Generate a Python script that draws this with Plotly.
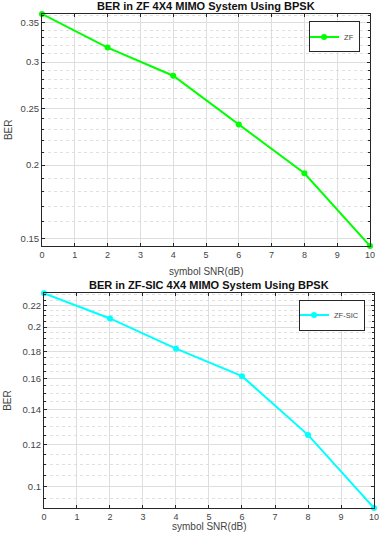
import math
import plotly.graph_objects as go

snr = [0, 2, 4, 6, 8, 10]
ber_zf = [0.3626, 0.3177, 0.2844, 0.2346, 0.1937, 0.1455]
ber_zfsic = [0.2317, 0.2077, 0.1821, 0.1616, 0.1252, 0.0911]

x_ticks = list(range(0, 11))
y1_ticks = [0.15, 0.2, 0.25, 0.3, 0.35]
y1_tick_text = ["0.15", "0.2", "0.25", "0.3", "0.35"]
y2_ticks = [0.1, 0.12, 0.14, 0.16, 0.18, 0.2, 0.22]
y2_tick_text = ["0.1", "0.12", "0.14", "0.16", "0.18", "0.2", "0.22"]
y1_minor = [round(0.14 + 0.01 * i, 3) for i in range(24)]
y2_minor = [round(0.085 + 0.005 * i, 3) for i in range(32)]

title1 = "BER in ZF 4X4 MIMO System Using BPSK"
title2 = "BER in ZF-SIC 4X4 MIMO System Using BPSK"
xlabel = "symbol SNR(dB)"
ylabel = "BER"

FONT = "Liberation Sans, Arial, sans-serif"
AX = "#262626"
GRID = "#dedede"
MINOR = "#e0e0e0"

fig = go.Figure()
fig.add_trace(go.Scatter(x=snr, y=ber_zf, mode="lines+markers", name="ZF",
                         line=dict(color="#00ff00", width=2),
                         marker=dict(size=6, color="#00ff00"),
                         xaxis="x", yaxis="y", legend="legend", cliponaxis=False))
fig.add_trace(go.Scatter(x=snr, y=ber_zfsic, mode="lines+markers", name="ZF-SIC",
                         line=dict(color="#00ffff", width=2),
                         marker=dict(size=6, color="#00ffff"),
                         xaxis="x2", yaxis="y2", legend="legend2", cliponaxis=False))


def xax(domain, anchor):
    return dict(domain=domain, anchor=anchor, range=[0, 10], tickvals=x_ticks,
                showline=True, linecolor=AX, linewidth=1, mirror="ticks",
                ticks="inside", ticklen=3, tickcolor=AX,
                showgrid=True, gridcolor=GRID, gridwidth=1, zeroline=False,
                tickfont=dict(size=9, color="#444", family=FONT))


def yax(domain, anchor, vals, text, minor, data):
    return dict(domain=domain, anchor=anchor, type="log",
                range=[math.log10(min(data)), math.log10(max(data))],
                tickvals=vals, ticktext=text,
                showline=True, linecolor=AX, linewidth=1, mirror="ticks",
                ticks="inside", ticklen=3, tickcolor=AX,
                showgrid=True, gridcolor=GRID, gridwidth=1, zeroline=False,
                minor=dict(tickvals=minor, showgrid=True, gridcolor=MINOR,
                           griddash="dot", ticks="inside", ticklen=2, tickcolor=AX),
                tickfont=dict(size=9.5, color="#444", family=FONT))


y1dom = [0.5304, 1.0]
y2dom = [0.0, 0.4346]
x1dom = [0.0, 0.988]
x2dom = [0.006, 1.0]

fig.update_layout(
    width=387, height=533,
    margin=dict(l=42, r=8, t=14, b=25),
    paper_bgcolor="white", plot_bgcolor="white",
    font=dict(family=FONT, color=AX),
    xaxis=xax(x1dom, "y"),
    yaxis=yax(y1dom, "x", y1_ticks, y1_tick_text, y1_minor, ber_zf),
    xaxis2=xax(x2dom, "y2"),
    yaxis2=yax(y2dom, "x2", y2_ticks, y2_tick_text, y2_minor, ber_zfsic),
    showlegend=True,
    legend=dict(x=0.958, y=0.985, xanchor="right", yanchor="top",
                bgcolor="white", bordercolor=AX, borderwidth=1,
                font=dict(size=7.5, family=FONT, color="#444"),
                itemwidth=30, tracegroupgap=0, indentation=-6),
    legend2=dict(x=0.973, y=0.422, xanchor="right", yanchor="top",
                 bgcolor="white", bordercolor=AX, borderwidth=1,
                 font=dict(size=7.5, family=FONT, color="#444"),
                 itemwidth=30, tracegroupgap=0, indentation=-6),
    annotations=[
        dict(text="<b>" + title1 + "</b>", x=0.494, y=1.0, xref="paper", yref="paper",
             xanchor="center", yanchor="bottom", showarrow=False, yshift=0,
             font=dict(size=11, family=FONT, color="#111")),
        dict(text="<b>" + title2 + "</b>", x=0.503, y=0.4346, xref="paper", yref="paper",
             xanchor="center", yanchor="bottom", showarrow=False, yshift=0,
             font=dict(size=11, family=FONT, color="#111")),
        dict(text=xlabel, x=0.494, y=0.5304, xref="paper", yref="paper",
             xanchor="center", yanchor="top", showarrow=False, yshift=-18,
             font=dict(size=10, family=FONT, color="#444")),
        dict(text=xlabel, x=0.503, y=0.0, xref="paper", yref="paper",
             xanchor="center", yanchor="top", showarrow=False, yshift=-11,
             font=dict(size=10, family=FONT, color="#444")),
        dict(text=ylabel, x=0.0, y=0.765, xref="paper", yref="paper",
             xanchor="center", yanchor="middle", showarrow=False, xshift=-34,
             textangle=-90, font=dict(size=10, family=FONT, color="#444")),
        dict(text=ylabel, x=0.0, y=0.217, xref="paper", yref="paper",
             xanchor="center", yanchor="middle", showarrow=False, xshift=-34,
             textangle=-90, font=dict(size=10, family=FONT, color="#444")),
    ],
)

fig.write_html("out.html")
